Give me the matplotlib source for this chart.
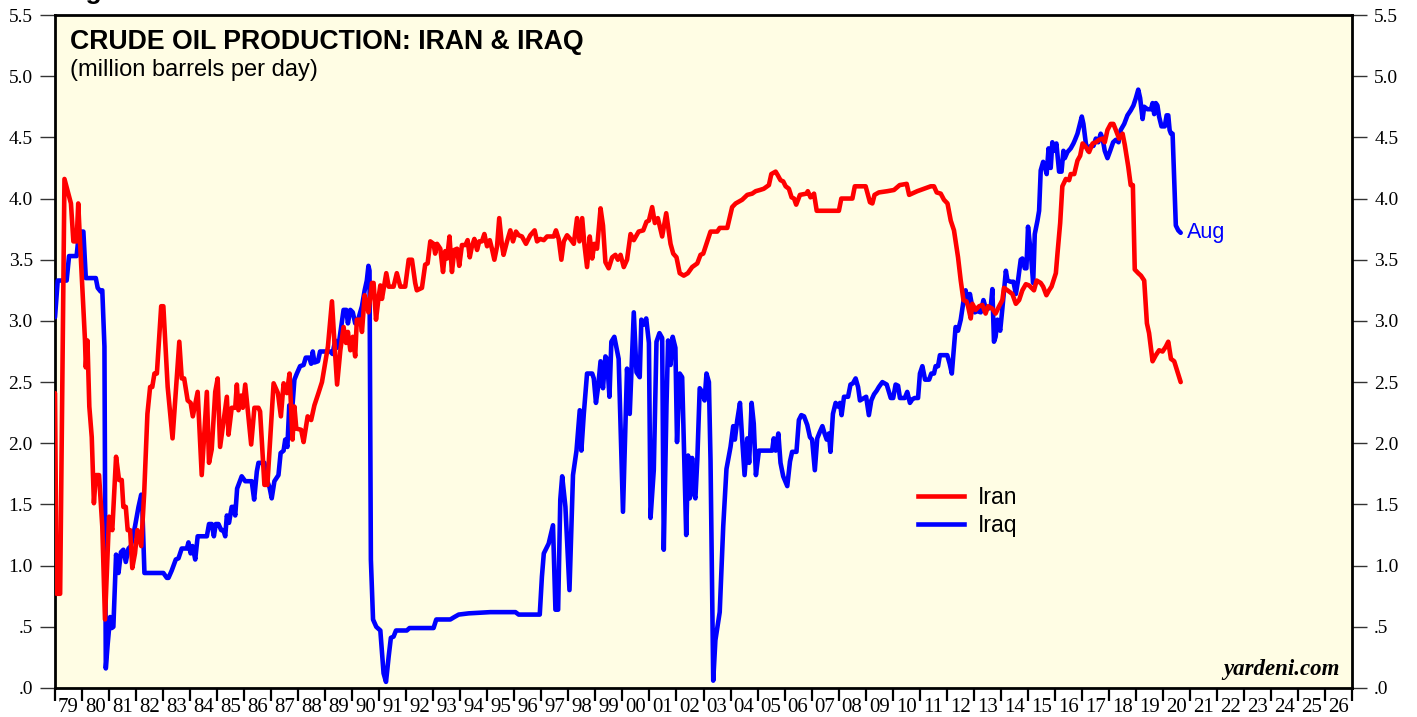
import matplotlib
matplotlib.use("Agg")
import matplotlib.pyplot as plt
from matplotlib.ticker import FixedLocator, FuncFormatter, NullFormatter
from matplotlib.lines import Line2D

# ---------------- data (million barrels per day) ----------------
iran_year = [
    1979.00, 1979.06, 1979.19, 1979.35, 1979.47, 1979.59, 1979.68, 1979.80, 1979.86, 1979.93,
    1980.11, 1980.14, 1980.20, 1980.27, 1980.36, 1980.44, 1980.51, 1980.63, 1980.75, 1980.85,
    1981.00, 1981.12, 1981.26, 1981.37, 1981.47, 1981.53, 1981.62, 1981.69, 1981.78, 1981.86,
    1981.96, 1982.05, 1982.19, 1982.30, 1982.42, 1982.52, 1982.60, 1982.68, 1982.77, 1982.93,
    1983.01, 1983.17, 1983.35, 1983.60, 1983.69, 1983.78, 1983.91, 1984.02, 1984.10, 1984.28,
    1984.43, 1984.62, 1984.70, 1984.80, 1984.93, 1985.02, 1985.11, 1985.36, 1985.42, 1985.54,
    1985.67, 1985.73, 1985.79, 1985.89, 1985.95, 1986.04, 1986.14, 1986.26, 1986.38, 1986.53,
    1986.59, 1986.75, 1986.86, 1987.09, 1987.25, 1987.36, 1987.46, 1987.58, 1987.68, 1987.79,
    1987.86, 1987.93, 1988.11, 1988.20, 1988.35, 1988.48, 1988.60, 1988.75, 1988.88, 1989.10,
    1989.25, 1989.35, 1989.44, 1989.56, 1989.68, 1989.77, 1989.84, 1989.93, 1990.02, 1990.11,
    1990.17, 1990.30, 1990.36, 1990.46, 1990.54, 1990.60, 1990.73, 1990.79, 1990.88, 1990.98,
    1991.04, 1991.10, 1991.26, 1991.35, 1991.53, 1991.65, 1991.78, 1991.96, 1992.09, 1992.21,
    1992.33, 1992.39, 1992.58, 1992.70, 1992.79, 1992.89, 1993.01, 1993.07, 1993.14, 1993.26,
    1993.36, 1993.44, 1993.51, 1993.60, 1993.69, 1993.78, 1993.88, 1993.96, 1994.06, 1994.19,
    1994.27, 1994.35, 1994.43, 1994.52, 1994.62, 1994.70, 1994.80, 1994.89, 1994.99, 1995.09,
    1995.17, 1995.26, 1995.36, 1995.44, 1995.54, 1995.60, 1995.73, 1995.85, 1995.95, 1996.06,
    1996.16, 1996.28, 1996.43, 1996.59, 1996.75, 1996.84, 1996.96, 1997.09, 1997.21, 1997.46,
    1997.54, 1997.64, 1997.74, 1997.83, 1997.95, 1998.07, 1998.20, 1998.32, 1998.41, 1998.51,
    1998.59, 1998.69, 1998.79, 1998.88, 1998.96, 1999.06, 1999.19, 1999.28, 1999.37, 1999.49,
    1999.62, 1999.74, 1999.83, 1999.93, 2000.05, 2000.17, 2000.30, 2000.42, 2000.60, 2000.77,
    2000.89, 2000.98, 2001.10, 2001.20, 2001.31, 2001.47, 2001.62, 2001.78, 2001.88, 2002.00,
    2002.12, 2002.27, 2002.42, 2002.58, 2002.77, 2002.89, 2002.99, 2003.14, 2003.26, 2003.51,
    2003.60, 2003.88, 2004.06, 2004.19, 2004.43, 2004.62, 2004.80, 2004.93, 2005.09, 2005.23,
    2005.42, 2005.51, 2005.67, 2005.75, 2005.85, 2005.95, 2006.04, 2006.16, 2006.26, 2006.35,
    2006.43, 2006.57, 2006.81, 2006.86, 2006.96, 2007.09, 2007.19, 2008.01, 2008.10, 2008.51,
    2008.60, 2009.00, 2009.16, 2009.25, 2009.33, 2009.49, 2009.80, 2010.05, 2010.26, 2010.52,
    2010.61, 2010.91, 2011.41, 2011.53, 2011.63, 2011.78, 2011.90, 2012.03, 2012.15, 2012.27,
    2012.42, 2012.52, 2012.62, 2012.73, 2012.79, 2012.89, 2012.95, 2013.07, 2013.20, 2013.32,
    2013.44, 2013.53, 2013.69, 2013.81, 2013.94, 2014.06, 2014.12, 2014.25, 2014.43, 2014.56,
    2014.68, 2014.80, 2014.93, 2015.05, 2015.23, 2015.33, 2015.48, 2015.57, 2015.69, 2015.79,
    2015.88, 2016.04, 2016.10, 2016.20, 2016.28, 2016.41, 2016.53, 2016.59, 2016.72, 2016.84,
    2016.94, 2017.03, 2017.15, 2017.27, 2017.40, 2017.52, 2017.64, 2017.77, 2017.85, 2017.95,
    2018.07, 2018.17, 2018.26, 2018.38, 2018.51, 2018.59, 2018.72, 2018.81, 2018.89, 2018.96,
    2019.09, 2019.19, 2019.31, 2019.41, 2019.49, 2019.62, 2019.74, 2019.86, 2019.99, 2020.11,
    2020.20, 2020.30, 2020.42, 2020.52, 2020.66,
]
iran_value = [
    2.41, 0.77, 0.77, 4.16, 4.06, 3.96, 3.65, 3.65, 3.96, 3.63,
    2.84, 2.62, 2.84, 2.30, 2.05, 1.51, 1.74, 1.74, 1.32, 0.56,
    1.40, 1.29, 1.89, 1.70, 1.70, 1.48, 1.48, 1.29, 1.29, 0.98,
    1.10, 1.29, 1.16, 1.59, 2.24, 2.46, 2.46, 2.57, 2.57, 3.12,
    3.12, 2.46, 2.04, 2.83, 2.53, 2.53, 2.35, 2.33, 2.22, 2.42,
    1.74, 2.42, 1.84, 1.95, 2.42, 2.53, 1.97, 2.38, 2.07, 2.29,
    2.29, 2.48, 2.27, 2.39, 2.29, 2.48, 2.26, 1.99, 2.29, 2.29,
    2.26, 1.66, 1.66, 2.49, 2.41, 2.22, 2.49, 2.41, 2.57, 2.03,
    2.30, 2.12, 2.11, 2.01, 2.22, 2.19, 2.31, 2.41, 2.50, 2.79,
    3.16, 2.79, 2.48, 2.76, 2.95, 2.82, 2.91, 2.76, 2.87, 2.71,
    3.01, 3.01, 2.91, 3.21, 3.14, 3.07, 3.31, 3.31, 3.01, 3.20,
    3.29, 3.18, 3.39, 3.28, 3.28, 3.39, 3.28, 3.28, 3.50, 3.50,
    3.31, 3.25, 3.27, 3.46, 3.47, 3.65, 3.63, 3.55, 3.63, 3.59,
    3.40, 3.57, 3.51, 3.69, 3.40, 3.58, 3.59, 3.45, 3.62, 3.62,
    3.66, 3.52, 3.61, 3.67, 3.58, 3.65, 3.65, 3.71, 3.61, 3.66,
    3.59, 3.50, 3.61, 3.84, 3.62, 3.54, 3.65, 3.74, 3.65, 3.73,
    3.70, 3.69, 3.63, 3.70, 3.74, 3.65, 3.67, 3.66, 3.69, 3.69,
    3.74, 3.67, 3.50, 3.65, 3.70, 3.67, 3.63, 3.84, 3.65, 3.84,
    3.63, 3.44, 3.69, 3.51, 3.63, 3.59, 3.92, 3.78, 3.48, 3.43,
    3.52, 3.54, 3.50, 3.54, 3.44, 3.50, 3.71, 3.66, 3.73, 3.74,
    3.81, 3.82, 3.93, 3.80, 3.84, 3.69, 3.88, 3.63, 3.55, 3.52,
    3.39, 3.37, 3.39, 3.44, 3.47, 3.54, 3.55, 3.65, 3.73, 3.73,
    3.76, 3.76, 3.93, 3.96, 3.99, 4.03, 4.04, 4.06, 4.07, 4.08,
    4.11, 4.20, 4.22, 4.19, 4.15, 4.14, 4.10, 4.08, 4.01, 4.00,
    3.95, 4.03, 4.04, 4.06, 4.01, 4.04, 3.90, 3.90, 4.00, 4.00,
    4.10, 4.10, 3.97, 3.96, 4.03, 4.05, 4.06, 4.07, 4.11, 4.12,
    4.03, 4.06, 4.10, 4.10, 4.05, 4.04, 3.99, 3.96, 3.82, 3.74,
    3.52, 3.33, 3.17, 3.16, 3.12, 3.02, 3.14, 3.09, 3.12, 3.13,
    3.06, 3.12, 3.10, 3.06, 3.12, 3.17, 3.27, 3.25, 3.22, 3.14,
    3.17, 3.25, 3.30, 3.29, 3.25, 3.33, 3.31, 3.28, 3.21, 3.25,
    3.28, 3.39, 3.55, 3.80, 4.10, 4.16, 4.15, 4.20, 4.20, 4.31,
    4.35, 4.45, 4.42, 4.38, 4.45, 4.46, 4.48, 4.49, 4.46, 4.56,
    4.61, 4.61, 4.56, 4.49, 4.53, 4.44, 4.26, 4.11, 4.11, 3.42,
    3.39, 3.37, 3.33, 2.98, 2.90, 2.67, 2.72, 2.76, 2.75, 2.79,
    2.83, 2.69, 2.67, 2.60, 2.50,
]

iraq_year = [
    1979.00, 1979.10, 1979.43, 1979.52, 1979.80, 1979.89, 1980.05, 1980.14, 1980.51, 1980.58,
    1980.69, 1980.75, 1980.83, 1980.88, 1980.95, 1981.04, 1981.10, 1981.16, 1981.26, 1981.35,
    1981.44, 1981.53, 1981.62, 1981.72, 1981.81, 1981.96, 1982.09, 1982.19, 1982.23, 1982.31,
    1983.01, 1983.14, 1983.20, 1983.32, 1983.47, 1983.57, 1983.69, 1983.88, 1983.94, 1984.02,
    1984.09, 1984.19, 1984.28, 1984.62, 1984.70, 1984.80, 1984.88, 1984.95, 1985.05, 1985.15,
    1985.23, 1985.30, 1985.36, 1985.44, 1985.54, 1985.60, 1985.67, 1985.74, 1985.91, 1986.04,
    1986.28, 1986.37, 1986.47, 1986.53, 1986.75, 1986.84, 1986.94, 1987.02, 1987.12, 1987.27,
    1987.35, 1987.46, 1987.52, 1987.60, 1987.67, 1987.79, 1987.86, 1987.95, 1988.07, 1988.20,
    1988.28, 1988.41, 1988.48, 1988.54, 1988.60, 1988.73, 1988.81, 1989.19, 1989.27, 1989.37,
    1989.43, 1989.52, 1989.59, 1989.68, 1989.78, 1989.84, 1989.93, 1990.02, 1990.11, 1990.23,
    1990.36, 1990.46, 1990.54, 1990.60, 1990.64, 1990.69, 1990.77, 1990.89, 1991.04, 1991.16,
    1991.25, 1991.35, 1991.43, 1991.53, 1991.62, 1992.02, 1992.12, 1993.01, 1993.11, 1993.63,
    1993.78, 1993.94, 1994.31, 1995.11, 1996.04, 1996.16, 1996.94, 1997.02, 1997.09, 1997.27,
    1997.43, 1997.52, 1997.62, 1997.70, 1997.77, 1997.89, 1998.04, 1998.17, 1998.30, 1998.42,
    1998.48, 1998.57, 1998.69, 1998.88, 1998.94, 1999.02, 1999.10, 1999.19, 1999.28, 1999.37,
    1999.43, 1999.52, 1999.59, 1999.70, 1999.86, 2000.02, 2000.17, 2000.27, 2000.42, 2000.52,
    2000.64, 2000.70, 2000.79, 2000.88, 2000.98, 2001.04, 2001.16, 2001.26, 2001.37, 2001.47,
    2001.53, 2001.63, 2001.69, 2001.78, 2001.86, 2001.96, 2002.02, 2002.12, 2002.21, 2002.36,
    2002.43, 2002.49, 2002.58, 2002.64, 2002.70, 2002.77, 2002.86, 2002.95, 2003.04, 2003.11,
    2003.20, 2003.26, 2003.36, 2003.44, 2003.60, 2003.73, 2003.85, 2004.00, 2004.10, 2004.16,
    2004.25, 2004.35, 2004.43, 2004.52, 2004.62, 2004.69, 2004.78, 2004.86, 2004.94, 2005.05,
    2005.54, 2005.60, 2005.67, 2005.77, 2005.85, 2005.95, 2006.10, 2006.20, 2006.28, 2006.44,
    2006.53, 2006.62, 2006.72, 2006.84, 2006.94, 2007.02, 2007.12, 2007.21, 2007.30, 2007.40,
    2007.48, 2007.56, 2007.64, 2007.70, 2007.79, 2007.89, 2007.98, 2008.05, 2008.11, 2008.20,
    2008.35, 2008.44, 2008.53, 2008.63, 2008.72, 2008.79, 2008.94, 2009.02, 2009.12, 2009.21,
    2009.31, 2009.41, 2009.49, 2009.62, 2009.78, 2009.93, 2010.02, 2010.11, 2010.20, 2010.27,
    2010.45, 2010.54, 2010.64, 2010.73, 2010.82, 2010.94, 2011.01, 2011.10, 2011.20, 2011.35,
    2011.43, 2011.53, 2011.59, 2011.68, 2011.75, 2012.02, 2012.11, 2012.19, 2012.27, 2012.33,
    2012.42, 2012.52, 2012.62, 2012.70, 2012.79, 2012.86, 2012.95, 2013.04, 2013.14, 2013.26,
    2013.36, 2013.44, 2013.53, 2013.63, 2013.69, 2013.75, 2013.81, 2013.88, 2013.98, 2014.06,
    2014.19, 2014.25, 2014.37, 2014.47, 2014.56, 2014.64, 2014.74, 2014.80, 2014.89, 2014.95,
    2015.01, 2015.11, 2015.20, 2015.26, 2015.36, 2015.42, 2015.48, 2015.57, 2015.63, 2015.70,
    2015.77, 2015.85, 2015.91, 2015.98, 2016.06, 2016.16, 2016.25, 2016.32, 2016.37, 2016.47,
    2016.59, 2016.69, 2016.75, 2016.84, 2016.93, 2017.00, 2017.06, 2017.15, 2017.23, 2017.33,
    2017.43, 2017.52, 2017.61, 2017.70, 2017.77, 2017.85, 2017.95, 2018.05, 2018.16, 2018.26,
    2018.36, 2018.44, 2018.57, 2018.69, 2018.81, 2018.91, 2019.00, 2019.09, 2019.16, 2019.25,
    2019.31, 2019.43, 2019.56, 2019.62, 2019.68, 2019.74, 2019.80, 2019.86, 2019.95, 2020.07,
    2020.14, 2020.20, 2020.25, 2020.30, 2020.36, 2020.48, 2020.57, 2020.66,
]
iraq_value = [
    3.03, 3.33, 3.33, 3.53, 3.53, 3.73, 3.73, 3.35, 3.35, 3.27,
    3.24, 3.25, 2.79, 0.16, 0.36, 0.58, 0.49, 0.50, 1.09, 0.94,
    1.11, 1.13, 1.03, 1.14, 1.16, 1.32, 1.48, 1.58, 1.48, 0.94,
    0.94, 0.90, 0.90, 0.96, 1.05, 1.06, 1.14, 1.14, 1.19, 1.10,
    1.16, 1.05, 1.24, 1.24, 1.34, 1.34, 1.24, 1.34, 1.34, 1.29,
    1.29, 1.24, 1.41, 1.35, 1.48, 1.48, 1.41, 1.63, 1.73, 1.69,
    1.69, 1.54, 1.77, 1.84, 1.84, 1.70, 1.64, 1.55, 1.69, 1.74,
    1.92, 1.94, 2.03, 1.97, 2.31, 2.31, 2.52, 2.57, 2.63, 2.64,
    2.70, 2.70, 2.65, 2.75, 2.66, 2.67, 2.75, 2.75, 2.73, 2.84,
    2.78, 2.84, 2.95, 3.09, 3.09, 2.98, 3.09, 3.07, 2.98, 3.02,
    3.12, 3.25, 3.33, 3.45, 3.41, 1.05, 0.56, 0.50, 0.47, 0.12,
    0.05, 0.26, 0.41, 0.42, 0.47, 0.47, 0.49, 0.49, 0.56, 0.56,
    0.58, 0.60, 0.61, 0.62, 0.62, 0.60, 0.60, 0.91, 1.10, 1.18,
    1.33, 0.64, 0.64, 1.54, 1.73, 1.48, 0.80, 1.74, 1.94, 2.27,
    1.94, 2.24, 2.57, 2.57, 2.53, 2.33, 2.46, 2.67, 2.45, 2.71,
    2.69, 2.38, 2.83, 2.87, 2.69, 1.44, 2.61, 2.24, 3.07, 2.58,
    2.54, 3.01, 2.97, 3.02, 2.82, 1.39, 1.78, 2.83, 2.90, 2.86,
    1.13, 2.31, 2.84, 2.64, 2.87, 2.78, 2.01, 2.57, 2.54, 1.25,
    1.90, 1.55, 1.88, 1.59, 1.55, 1.86, 2.45, 2.42, 2.35, 2.57,
    2.50, 1.86, 0.06, 0.39, 0.62, 1.32, 1.79, 1.97, 2.14, 2.03,
    2.19, 2.33, 2.04, 1.74, 2.04, 1.84, 2.33, 2.16, 1.74, 1.94,
    1.94, 2.04, 1.94, 2.08, 1.84, 1.73, 1.65, 1.85, 1.93, 1.93,
    2.19, 2.23, 2.22, 2.15, 2.05, 2.03, 1.78, 2.04, 2.09, 2.14,
    2.08, 2.03, 2.08, 1.93, 2.24, 2.33, 2.30, 2.33, 2.23, 2.38,
    2.38, 2.48, 2.49, 2.53, 2.46, 2.35, 2.37, 2.38, 2.23, 2.35,
    2.40, 2.43, 2.46, 2.50, 2.48, 2.37, 2.37, 2.48, 2.47, 2.37,
    2.37, 2.42, 2.33, 2.36, 2.37, 2.37, 2.57, 2.63, 2.52, 2.52,
    2.57, 2.57, 2.63, 2.63, 2.72, 2.72, 2.65, 2.57, 2.79, 2.95,
    2.92, 3.01, 3.16, 3.25, 3.14, 3.22, 3.11, 3.07, 3.08, 3.07,
    3.17, 3.11, 3.10, 3.11, 3.26, 2.83, 2.87, 3.01, 2.92, 3.10,
    3.41, 3.33, 3.32, 3.32, 3.22, 3.33, 3.50, 3.51, 3.43, 3.43,
    3.77, 3.56, 3.31, 3.71, 3.82, 3.90, 4.23, 4.30, 4.26, 4.20,
    4.41, 4.25, 4.46, 4.39, 4.45, 4.22, 4.22, 4.39, 4.33, 4.38,
    4.41, 4.45, 4.48, 4.53, 4.61, 4.67, 4.61, 4.45, 4.39, 4.43,
    4.43, 4.49, 4.46, 4.53, 4.49, 4.39, 4.33, 4.39, 4.46, 4.48,
    4.46, 4.56, 4.61, 4.68, 4.72, 4.76, 4.82, 4.89, 4.82, 4.65,
    4.75, 4.73, 4.73, 4.78, 4.69, 4.78, 4.76, 4.67, 4.59, 4.59,
    4.68, 4.68, 4.56, 4.53, 4.53, 3.78, 3.74, 3.72,
]

years = list(range(1979, 2027))
year_labels = [f"{y % 100:02d}" for y in years]
y_ticks = [0.0, 0.5, 1.0, 1.5, 2.0, 2.5, 3.0, 3.5, 4.0, 4.5, 5.0, 5.5]

title = "CRUDE OIL PRODUCTION: IRAN & IRAQ"
subtitle = "(million barrels per day)"

# ---------------- figure ----------------
W, H = 1417, 717
fig = plt.figure(figsize=(W / 100, H / 100), dpi=100)
fig.patch.set_facecolor("white")
ax = fig.add_axes([55 / W, 29 / H, 1297 / W, 673 / H])
ax.set_facecolor("#FFFDE4")

RED = "#FF0000"
BLUE = "#0000FF"
ax.plot(iraq_year, iraq_value, color=BLUE, lw=3.3, solid_joinstyle="round", solid_capstyle="round", zorder=3)
ax.plot(iran_year, iran_value, color=RED, lw=3.3, solid_joinstyle="round", solid_capstyle="round", zorder=4)

ax.set_xlim(1979, 2027)
ax.set_ylim(0, 5.5)

# x axis: ticks at year boundaries, labels centred in each year
ax.xaxis.set_major_locator(FixedLocator(list(range(1979, 2028))))
ax.xaxis.set_major_formatter(NullFormatter())
ax.xaxis.set_minor_locator(FixedLocator([y + 0.5 for y in years]))
ax.xaxis.set_minor_formatter(FuncFormatter(lambda v, p: year_labels[int(v - 1979)] if 0 <= int(v - 1979) < len(years) else ""))
ax.tick_params(axis="x", which="major", direction="out", length=9, width=1.6, color="black")
ax.tick_params(axis="x", which="minor", length=0, pad=7, labelsize=15)
for lab in ax.xaxis.get_minorticklabels():
    lab.set_fontfamily("Liberation Serif")

# y axis both sides
ax.yaxis.set_major_locator(FixedLocator(y_ticks))
ax.yaxis.set_major_formatter(FuncFormatter(lambda v, p: (f"{v:.1f}"[1:] if v < 1 else f"{v:.1f}")))
ax.tick_params(axis="y", which="major", direction="out", length=11, width=1.0, color="#333333",
               left=True, right=True, labelleft=True, labelright=True, labelsize=14, pad=5)
for lab in ax.yaxis.get_majorticklabels():
    lab.set_fontfamily("Liberation Serif")

for side, sp in ax.spines.items():
    sp.set_color("black")
    sp.set_linewidth(2.0)

# titles
ax.text(0.0115, 0.9495, title, transform=ax.transAxes, ha="left", va="baseline",
        fontsize=19.2, fontweight="bold", fontfamily="Liberation Sans")
ax.text(0.0115, 0.909, subtitle, transform=ax.transAxes, ha="left", va="baseline",
        fontsize=17, fontfamily="Liberation Sans")

# partially visible figure caption at very top
fig.text(62 / W, 1 + 1 / H, "Figure 6", ha="left", va="baseline", fontsize=19,
         fontweight="bold", fontfamily="Liberation Sans")

# Aug label
ax.text(iraq_year[-1] + 0.22, iraq_value[-1], "Aug", color=BLUE, ha="left", va="center",
        fontsize=15.5, fontfamily="Liberation Sans")

# legend
handles = [Line2D([], [], color=RED, lw=3.3), Line2D([], [], color=BLUE, lw=3.3)]
leg = ax.legend(handles, ["Iran", "Iraq"], loc="upper left", bbox_to_anchor=(0.6654, 0.300),
                frameon=False, borderpad=0, borderaxespad=0, handlelength=2.0,
                handletextpad=0.6, labelspacing=0.2,
                prop={"family": "Liberation Sans", "size": 16.5})

# source
ax.text(0.9905, 0.012, "yardeni.com", transform=ax.transAxes, ha="right", va="bottom",
        fontsize=16.5, fontweight="bold", fontstyle="italic", fontfamily="Liberation Serif")

fig.savefig("out.png", dpi=100, facecolor="white")
